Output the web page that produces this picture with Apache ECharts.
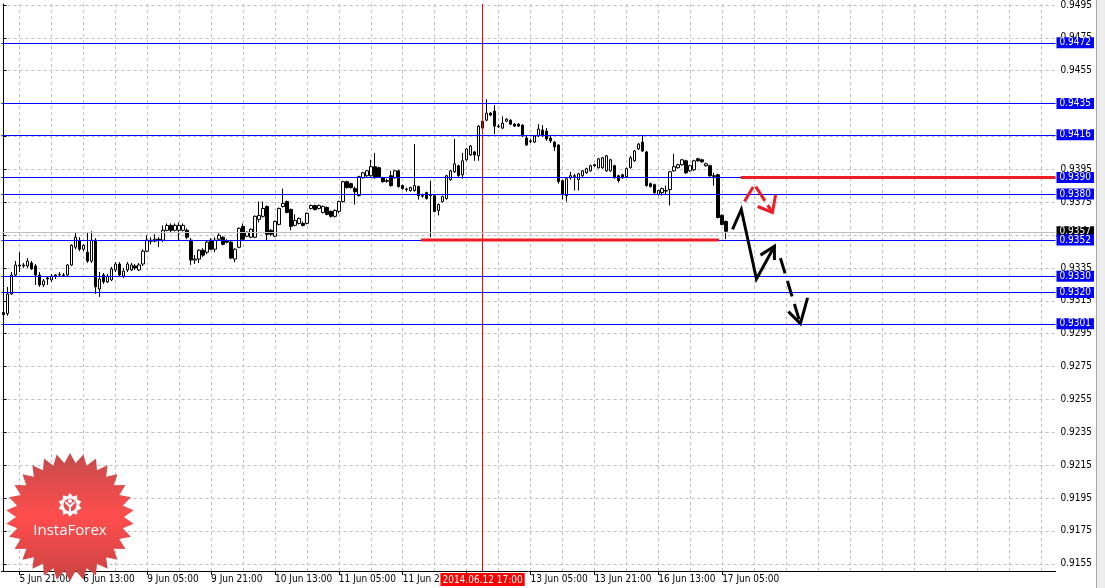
<!DOCTYPE html>
<html><head><meta charset="utf-8">
<script src="https://cdn.jsdelivr.net/npm/echarts@6/dist/echarts.min.js"></script>
<style>html,body{margin:0;padding:0;background:#fff}#c{width:1105px;height:588px}</style>
</head><body><div id="c"></div>
<script>
// trading sessions (hourly bars): [date, firstHour, lastHour]
const sessions = [
 ["2014.06.05",17,23],["2014.06.06",0,23],["2014.06.09",0,23],["2014.06.10",0,23],
 ["2014.06.11",0,23],["2014.06.12",0,23],["2014.06.13",0,23],["2014.06.16",0,23],
 ["2014.06.17",0,23],["2014.06.18",0,23],["2014.06.19",0,23],["2014.06.20",0,23]
];
const slotCount = 264;

const opens = [0.93078,0.93072,0.93192,0.93307,0.93368,0.93362,0.93362,0.93380,0.93362,0.93307,
 0.93247,0.93289,0.93277,0.93301,0.93307,0.93307,0.93307,0.93368,0.93476,0.93519,
 0.93464,0.93446,0.93392,0.93519,0.93222,0.93307,0.93265,0.93277,0.93338,0.93374,
 0.93301,0.93338,0.93338,0.93362,0.93338,0.93374,0.93452,0.93519,0.93513,0.93525,
 0.93519,0.93579,0.93609,0.93579,0.93579,0.93579,0.93579,0.93519,0.93398,0.93404,
 0.93458,0.93446,0.93519,0.93464,0.93525,0.93537,0.93513,0.93507,0.93404,0.93476,
 0.93603,0.93543,0.93537,0.93537,0.93645,0.93664,0.93724,0.93579,0.93543,0.93615,
 0.93724,0.93754,0.93706,0.93609,0.93621,0.93621,0.93621,0.93712,0.93730,0.93712,
 0.93688,0.93718,0.93694,0.93664,0.93694,0.93754,0.93875,0.93863,0.93833,0.93790,
 0.93899,0.93911,0.93911,0.93966,0.93960,0.93899,0.93881,0.93911,0.93899,0.93941,
 0.93851,0.93827,0.93821,0.93821,0.93845,0.93790,0.93808,0.93790,0.93790,0.93700,
 0.93754,0.93772,0.93887,0.93935,0.93972,0.93917,0.94008,0.94038,0.94056,0.94032,
 0.94243,0.94249,0.94292,0.94304,0.94213,0.94201,0.94243,0.94249,0.94225,0.94225,
 0.94219,0.94141,0.94123,0.94116,0.94153,0.94189,0.94183,0.94141,0.94116,0.94098,
 0.93881,0.93790,0.93899,0.93911,0.93887,0.93911,0.93929,0.93941,0.93978,0.93960,
 0.93960,0.93941,0.93941,0.93972,0.93911,0.93917,0.93905,0.93960,0.94002,0.94074,
 0.94116,0.94056,0.93863,0.93857,0.93796,0.93808,0.93821,0.93827,0.93941,0.93960,
 0.93978,0.94002,0.93941,0.93947,0.94014,0.94008,0.93972,0.93972,0.93911,0.93917,
 0.93670,0.93633];
const closes = [0.93066,0.93192,0.93307,0.93368,0.93362,0.93368,0.93392,0.93344,0.93307,0.93247,
 0.93271,0.93283,0.93301,0.93307,0.93310,0.93304,0.93368,0.93488,0.93537,0.93464,
 0.93488,0.93392,0.93519,0.93235,0.93283,0.93265,0.93301,0.93344,0.93374,0.93307,
 0.93331,0.93374,0.93368,0.93350,0.93368,0.93452,0.93519,0.93513,0.93525,0.93519,
 0.93579,0.93609,0.93579,0.93609,0.93609,0.93609,0.93537,0.93398,0.93404,0.93458,
 0.93428,0.93507,0.93464,0.93519,0.93549,0.93494,0.93507,0.93410,0.93464,0.93591,
 0.93525,0.93567,0.93585,0.93664,0.93670,0.93712,0.93555,0.93555,0.93633,0.93712,
 0.93742,0.93688,0.93603,0.93639,0.93651,0.93609,0.93682,0.93730,0.93706,0.93730,
 0.93724,0.93676,0.93664,0.93700,0.93754,0.93875,0.93839,0.93839,0.93814,0.93905,
 0.93929,0.93941,0.93966,0.93899,0.93905,0.93875,0.93878,0.93851,0.93941,0.93845,
 0.93833,0.93830,0.93839,0.93851,0.93790,0.93787,0.93772,0.93793,0.93694,0.93736,
 0.93784,0.93911,0.93941,0.93984,0.93911,0.94002,0.94074,0.94092,0.94038,0.94213,
 0.94201,0.94292,0.94280,0.94213,0.94210,0.94231,0.94255,0.94225,0.94213,0.94213,
 0.94153,0.94098,0.94120,0.94153,0.94195,0.94159,0.94135,0.94123,0.94086,0.93875,
 0.93796,0.93893,0.93911,0.93908,0.93923,0.93941,0.93954,0.93972,0.93972,0.94014,
 0.94020,0.94032,0.94008,0.93899,0.93881,0.93899,0.93954,0.94020,0.94062,0.94104,
 0.94062,0.93851,0.93845,0.93808,0.93821,0.93833,0.93818,0.93935,0.93966,0.93978,
 0.94008,0.93929,0.93972,0.94002,0.94002,0.93996,0.93984,0.93911,0.93908,0.93657,
 0.93615,0.93573];
const lows = [0.93047,0.93059,0.93186,0.93295,0.93325,0.93350,0.93350,0.93338,0.93247,0.93235,
 0.93235,0.93247,0.93265,0.93283,0.93295,0.93295,0.93295,0.93362,0.93464,0.93452,
 0.93452,0.93380,0.93380,0.93192,0.93174,0.93253,0.93259,0.93271,0.93325,0.93295,
 0.93289,0.93325,0.93331,0.93338,0.93331,0.93362,0.93446,0.93494,0.93507,0.93476,
 0.93507,0.93573,0.93567,0.93573,0.93519,0.93573,0.93525,0.93368,0.93374,0.93380,
 0.93416,0.93434,0.93458,0.93446,0.93519,0.93488,0.93500,0.93404,0.93386,0.93470,
 0.93519,0.93537,0.93531,0.93531,0.93627,0.93657,0.93513,0.93543,0.93537,0.93609,
 0.93718,0.93682,0.93579,0.93603,0.93615,0.93603,0.93615,0.93706,0.93700,0.93706,
 0.93682,0.93670,0.93657,0.93657,0.93682,0.93748,0.93833,0.93833,0.93736,0.93784,
 0.93893,0.93905,0.93905,0.93893,0.93899,0.93869,0.93869,0.93845,0.93893,0.93839,
 0.93827,0.93814,0.93814,0.93814,0.93766,0.93778,0.93766,0.93537,0.93688,0.93670,
 0.93748,0.93766,0.93881,0.93929,0.93905,0.93893,0.94002,0.94032,0.94002,0.94002,
 0.94195,0.94243,0.94273,0.94165,0.94201,0.94195,0.94237,0.94219,0.94207,0.94207,
 0.94147,0.94092,0.94110,0.94110,0.94147,0.94147,0.94123,0.94110,0.94062,0.93863,
 0.93766,0.93754,0.93887,0.93821,0.93821,0.93905,0.93923,0.93935,0.93966,0.93954,
 0.93954,0.93935,0.93935,0.93893,0.93869,0.93893,0.93899,0.93954,0.93996,0.94068,
 0.94056,0.93845,0.93839,0.93802,0.93790,0.93790,0.93796,0.93730,0.93935,0.93954,
 0.93972,0.93923,0.93935,0.93941,0.93996,0.93990,0.93966,0.93905,0.93851,0.93651,
 0.93609,0.93525];
const highs = [0.93096,0.93235,0.93325,0.93392,0.93446,0.93380,0.93410,0.93392,0.93374,0.93325,
 0.93283,0.93295,0.93313,0.93313,0.93325,0.93319,0.93374,0.93494,0.93567,0.93537,
 0.93494,0.93567,0.93573,0.93531,0.93325,0.93319,0.93313,0.93356,0.93386,0.93386,
 0.93350,0.93386,0.93380,0.93374,0.93380,0.93464,0.93549,0.93537,0.93555,0.93537,
 0.93609,0.93621,0.93621,0.93621,0.93627,0.93621,0.93591,0.93531,0.93428,0.93464,
 0.93470,0.93519,0.93531,0.93537,0.93561,0.93543,0.93525,0.93513,0.93470,0.93597,
 0.93621,0.93573,0.93591,0.93670,0.93754,0.93754,0.93730,0.93585,0.93639,0.93718,
 0.93833,0.93760,0.93712,0.93676,0.93657,0.93633,0.93688,0.93736,0.93736,0.93736,
 0.93730,0.93724,0.93700,0.93706,0.93760,0.93881,0.93881,0.93869,0.93845,0.93911,
 0.93935,0.93947,0.94008,0.94050,0.93966,0.93905,0.93893,0.93941,0.93947,0.93947,
 0.93857,0.93839,0.93845,0.94104,0.93851,0.93802,0.93814,0.93881,0.93796,0.93742,
 0.93790,0.93917,0.93947,0.94135,0.93978,0.94050,0.94080,0.94098,0.94062,0.94219,
 0.94249,0.94376,0.94298,0.94340,0.94225,0.94273,0.94261,0.94255,0.94231,0.94231,
 0.94225,0.94153,0.94135,0.94159,0.94225,0.94219,0.94201,0.94153,0.94123,0.94104,
 0.93887,0.93899,0.93935,0.93923,0.93929,0.93947,0.93960,0.93978,0.93984,0.94020,
 0.94026,0.94038,0.94014,0.93978,0.93917,0.93923,0.93960,0.94032,0.94068,0.94110,
 0.94159,0.94062,0.93869,0.93863,0.93827,0.93839,0.93851,0.93941,0.94044,0.93984,
 0.94014,0.94008,0.93978,0.94008,0.94020,0.94014,0.93990,0.93978,0.93929,0.93923,
 0.93676,0.93639];

const priceTicks = [0.9155,0.9175,0.9195,0.9215,0.9235,0.9255,0.9275,0.9295,0.9315,0.9335,
 0.9355,0.9375,0.9395,0.9415,0.9435,0.9455,0.9475,0.9495];
const levelLines = [0.9472,0.9435,0.9416,0.9390,0.9380,0.9352,0.9330,0.9320,0.9301];
const bidPrice = 0.9357;
const markedTime = "2014.06.12 17:00";

// annotations: [bar position, price]
const supportSeg = [[104.6,0.9352],[179.2,0.9352]];
const resistSeg  = [[184.7,0.9390],[263.5,0.9390]];
const redArrow     = [[185.6,0.93754],[188.1,0.93857],[192.6,0.93688]];
const redArrowHead = [[188.9,0.93724],[192.6,0.93688],[193.4,0.93796]];
const blackArrow1     = [[182.6,0.93585],[184.8,0.93706],[188.6,0.93283],[193.1,0.93482]];
const blackArrow1Head = [[189.6,0.93428],[193.1,0.93482],[193.1,0.93398]];
const blackArrow2     = [[194.6,0.93410],[199.6,0.93011]];
const blackArrow2Head = [[196.6,0.93084],[199.6,0.93011],[201.4,0.93168]];

// build categories
const categories = [];
for (const [d,h0,h1] of sessions) for (let h=h0; h<=h1; h++) categories.push(d+" "+(h<10?"0":"")+h+":00");
categories.length = slotCount;
const candles = opens.map((o,i)=>[o, closes[i], lows[i], highs[i]]);

function fmtTime(s){ const day = parseInt(s.slice(8,10),10); return day+" Jun "+s.slice(11); }
const labelIdx = i => (i-4)%16===0 && i<=180;
const FONT = '"DejaVu Sans Condensed","Liberation Sans",sans-serif';
const FS = 10;

function star(cx,cy,R,r,n){const p=[];for(let k=0;k<2*n;k++){const a=-Math.PI/2+k*Math.PI/n;const rr=k%2?r:R;p.push([cx+rr*Math.cos(a),cy+rr*Math.sin(a)]);}return p;}

const chart = echarts.init(document.getElementById('c'));
const lineS = (data,color,width,type,z,extra) => Object.assign({type:'line',xAxisIndex:1,yAxisIndex:0,data,symbol:'none',silent:true,animation:false,z:z||5,
  lineStyle:{color,width,type:type||'solid',cap:'butt',join:'miter'}}, extra||{});

const boxLabel = (txt,bg) => ({show:true,position:'end',distance:1,formatter:()=>txt,color:'#fff',backgroundColor:bg,padding:[1,3,0,3],fontSize:FS,fontFamily:FONT});

const levelMarks = {symbol:['none','none'],silent:true,animation:false,precision:5,
  data:[
    {yAxis:bidPrice,lineStyle:{color:'#c0c0c0',width:1,type:'solid'},label:boxLabel(bidPrice.toFixed(4),'#000000')},
    ...levelLines.map(v=>({yAxis:v,lineStyle:{color:'#0000ff',width:1,type:'solid'},label:boxLabel(v.toFixed(4),'#0000ff')}))
  ]};

chart.setOption({
  animation:false,
  backgroundColor:'#ffffff',
  grid:{left:1.5,right:49.5,top:0,bottom:17,containLabel:false},
  xAxis:[{
    type:'category',data:categories,boundaryGap:true,
    axisLine:{show:true,lineStyle:{color:'#000',width:1}},
    axisTick:{show:true,alignWithLabel:true,length:4,interval:(i)=>labelIdx(i),lineStyle:{color:'#000'}},
    axisLabel:{interval:(i)=>labelIdx(i),formatter:fmtTime,align:'left',color:'#000',fontSize:FS,fontFamily:FONT,margin:3},
    splitLine:{show:true,alignWithLabel:true,interval:(i)=>(i-4)%8===0,lineStyle:{color:'#c0c0c0',width:1,type:[3,3]}}
  },{
    type:'value',min:-0.5,max:slotCount-0.5,show:false
  }],
  yAxis:[{
    type:'value',position:'right',min:0.91506,max:0.94956,scale:true,
    axisLine:{show:true,lineStyle:{color:'#000',width:1}},
    axisTick:{show:true,length:3,customValues:priceTicks,lineStyle:{color:'#000'}},
    axisLabel:{customValues:priceTicks,formatter:v=>v.toFixed(4),color:'#000',fontSize:FS,fontFamily:FONT,margin:5,align:'left'},
    splitLine:{show:true,lineStyle:{color:'#c0c0c0',width:1,type:[3,3]}}
  }],
  series:[
    {type:'candlestick',data:candles,barWidth:3,z:4,
     itemStyle:{color:'#ffffff',color0:'#000000',borderColor:'#000000',borderColor0:'#000000',borderWidth:1},
     markLine:{symbol:['none','none'],silent:true,animation:false,
       data:[
        {xAxis:markedTime,lineStyle:{color:'#ff0000',width:1,type:'solid'},
           label:{show:true,position:'start',distance:2,formatter:()=>markedTime,color:'#fff',backgroundColor:'#ff0000',padding:[2,2,1,2],fontSize:FS,fontFamily:FONT}}
       ]}
    },
    lineS([],'#0000ff',1,'solid',3,{markLine:levelMarks}),
    lineS(supportSeg,'#ee1c25',3,'solid',7),
    lineS(resistSeg,'#ee1c25',3,'solid',7),
    lineS(redArrow,'#ee1c25',3,[17,5],8),
    lineS(redArrowHead,'#ee1c25',3,'solid',8),
    lineS(blackArrow1,'#000000',3,'solid',8),
    lineS(blackArrow1Head,'#000000',3,'solid',8),
    lineS(blackArrow2,'#000000',3,[16,8],8),
    lineS(blackArrow2Head,'#000000',3,'solid',8)
  ],
  graphic:[
    {type:'rect',shape:{x:1096,y:0,width:9,height:588},style:{fill:'#ececec'},z:50},
    {type:'line',shape:{x1:1096.5,y1:0,x2:1096.5,y2:588},style:{stroke:'#a8a8a8',lineWidth:1},z:51},
    {type:'polygon',shape:{points:star(70,517,64,54,30)},z:100,
      style:{fill:{type:'linear',x:0,y:0,x2:0,y2:1,colorStops:[{offset:0,color:'#c54b4b'},{offset:0.5,color:'#ff4d4d'},{offset:1,color:'#c94343'}]}}},
    {type:'polygon',shape:{points:star(70,505,12,9,10)},z:101,style:{fill:'#ffffff'}},
    {type:'circle',shape:{cx:70,cy:505,r:6.5},z:102,style:{fill:'#f04b4b'}},
    {type:'circle',shape:{cx:70,cy:501,r:2},z:103,style:{fill:'#ffffff'}},
    {type:'polyline',shape:{points:[[65.5,502],[70,506.5],[74.5,502]]},z:103,style:{stroke:'#ffffff',lineWidth:2,fill:null}},
    {type:'rect',shape:{x:69,y:505,width:2,height:9},z:103,style:{fill:'#ffffff'}},
    {type:'text',x:70,y:531,z:103,style:{text:'InstaForex',fill:'#ffffff',font:'15px "Open Sans"',align:'center',verticalAlign:'middle',textAlign:'center',textVerticalAlign:'middle'}}
  ]
});
</script></body></html>
